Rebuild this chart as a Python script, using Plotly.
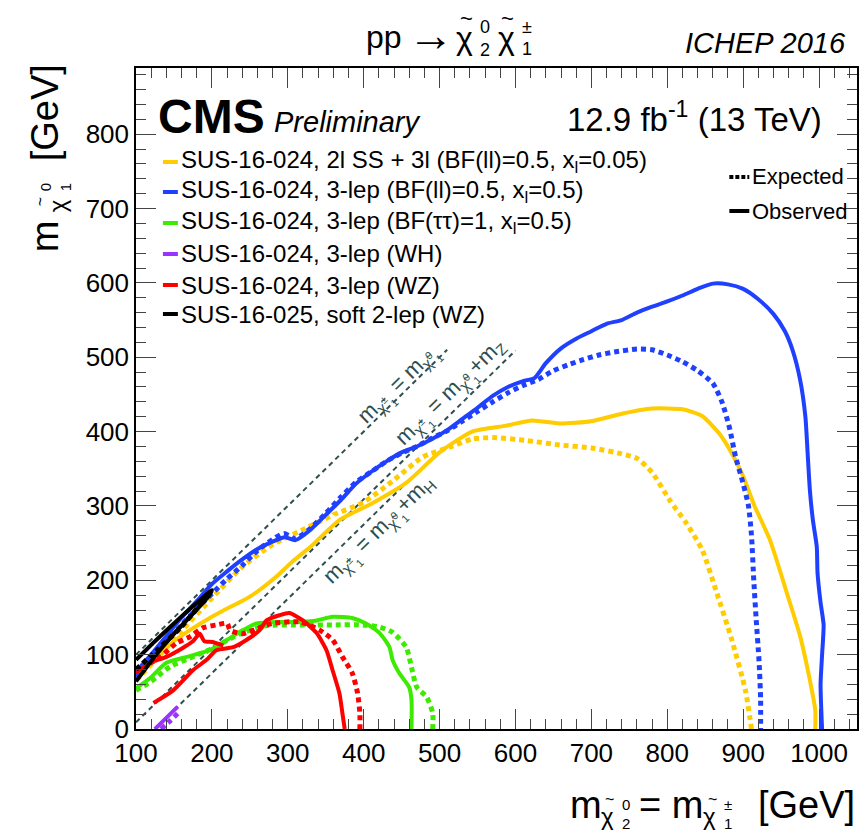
import plotly.graph_objects as go

# ---------------- data (GeV) ----------------
blue_obs_x = [100, 120, 140, 160, 180, 200, 220, 240, 260, 280, 296, 310, 330, 350, 370, 390, 410, 430, 450, 470, 490, 510, 530, 550, 570, 590, 610, 625, 640, 660, 680, 700, 720, 740, 760, 780, 800, 820, 840, 860, 880, 900, 920, 940, 955, 965, 975, 982, 985, 988, 992, 997, 998, 1002, 1006, 1004, 1002, 1004]
blue_obs_y = [77, 100, 125, 150, 172, 195, 212, 228, 242, 252, 258, 254, 268, 288, 308, 330, 346, 360, 372, 380, 390, 402, 417, 432, 448, 460, 468, 472, 492, 512, 525, 535, 545, 550, 560, 568, 575, 583, 592, 599, 598, 592, 578, 558, 535, 510, 470, 420, 370, 320, 280, 245, 210, 170, 140, 100, 60, 0]

blue_exp_x = [100, 120, 140, 160, 180, 200, 220, 240, 260, 280, 295, 310, 330, 350, 370, 390, 410, 430, 450, 470, 490, 510, 530, 550, 570, 590, 610, 630, 650, 670, 690, 710, 730, 760, 780, 800, 820, 840, 860, 872, 882, 890, 900, 907, 911, 914, 917, 921, 923, 923]
blue_exp_y = [70, 95, 118, 140, 162, 182, 202, 220, 240, 255, 263, 256, 270, 290, 312, 332, 346, 360, 371, 380, 391, 401, 414, 427, 440, 452, 462, 470, 482, 490, 497, 503, 507, 511, 510, 503, 494, 482, 465, 440, 405, 366, 330, 300, 260, 200, 150, 90, 40, 0]

yel_obs_x = [100, 130, 150, 171, 195, 220, 245, 263, 285, 306, 330, 368, 412, 456, 500, 543, 588, 622, 658, 700, 740, 780, 820, 846, 868, 885, 900, 915, 935, 960, 975, 988, 995, 995]
yel_obs_y = [68, 100, 118, 133, 148, 162, 175, 187, 205, 225, 245, 281, 304, 331, 372, 400, 408, 415, 411, 414, 424, 431, 430, 421, 398, 371, 340, 300, 255, 175, 125, 65, 25, 0]

yel_exp_x = [100, 130, 160, 200, 240, 280, 320, 360, 400, 440, 478, 513, 543, 570, 614, 658, 700, 740, 760, 780, 803, 825, 846, 864, 885, 903, 911]
yel_exp_y = [65, 98, 132, 176, 218, 248, 268, 288, 305, 335, 366, 379, 390, 392, 388, 382, 378, 370, 364, 345, 308, 277, 241, 187, 120, 52, 0]

grn_obs_x = [100, 118, 140, 167, 197, 220, 241, 259, 289, 316, 338, 359, 386, 403, 421, 434, 438, 447, 460, 463, 463]
grn_obs_y = [55, 68, 89, 97, 106, 120, 133, 142, 144, 144, 146, 151, 149, 142, 129, 110, 93, 75, 56, 39, 0]

grn_exp_x = [100, 120, 145, 170, 200, 237, 272, 316, 359, 399, 421, 438, 456, 463, 470, 483, 491, 491]
grn_exp_y = [52, 64, 84, 95, 108, 128, 139, 140, 140, 140, 137, 130, 110, 83, 56, 43, 21, 0]

red_obs_x = [100, 118, 140, 160, 175, 184, 190, 201, 215, None, 123, 149, 175, 193, 206, 228, 246, 263, 272, 289, 302, 320, 338, 351, 359, 368, 372, 375]
red_obs_y = [75, 89, 97, 108, 118, 128, 118, 117, 112, None, 35, 52, 79, 93, 106, 110, 120, 133, 146, 153, 156, 146, 129, 106, 79, 48, 21, 0]

red_exp_x = [108, 132, 154, 171, 188, 206, 220, 224, 240, 260, 280, 316, 342, 359, 372, 385, 392, 395, 395]
red_exp_y = [82, 97, 116, 124, 136, 140, 142, 133, 128, 135, 142, 144, 133, 120, 97, 75, 48, 21, 0]

pur_obs_x = [125, 140, 155]
pur_obs_y = [0, 15, 30]
pur_exp_x = [133, 145, 157]
pur_exp_y = [0, 11, 23]

blk_obs_x = [100, 125, 150, 175, 200, 196, 175, 150, 125, 100]
blk_obs_y = [93, 118, 142, 165, 187, 179, 155, 128, 98, 64]
blk_exp_x = [100, 130, 160, 195]
blk_exp_y = [80, 108, 138, 180]

# kinematic boundary lines: m_chi1pm = m_lsp + offset
diag_offsets = [0, 91, 125]
diag_x_start = [100, 100, 125]
diag_x_end = [510, 600, 455]

legend_labels = [
    "SUS-16-024, 2l SS + 3l (BF(ll)=0.5, x<sub>l</sub>=0.05)",
    "SUS-16-024, 3-lep (BF(ll)=0.5, x<sub>l</sub>=0.5)",
    "SUS-16-024, 3-lep (BF(ττ)=1, x<sub>l</sub>=0.5)",
    "SUS-16-024, 3-lep (WH)",
    "SUS-16-024, 3-lep (WZ)",
    "SUS-16-025, soft 2-lep (WZ)",
]

# ---------------- styling ----------------
YEL, BLU, GRN, PUR, RED, BLK = "#FFCC00", "#2040FF", "#3CEB00", "#9933FF", "#FF0000", "#000000"
DIAG = "#2F4F4F"
FONT = "Liberation Sans, Arial, sans-serif"
W, H = 865, 833
L, R, T, B = 136, 6, 68, 104
X0, X1 = 100, 1050
Y0, Y1 = 0, 889


def pp(px, py):
    return (px - L) / (W - L - R), (H - B - py) / (H - T - B)


fig = go.Figure()

# diagonal lines
for off, xs, xe in zip(diag_offsets, diag_x_start, diag_x_end):
    fig.add_trace(go.Scatter(x=[xs, xe], y=[xs - off, xe - off], mode="lines",
                             line=dict(color=DIAG, width=2, dash="5px,4px"),
                             hoverinfo="skip", showlegend=False))

curves = [
    (grn_exp_x, grn_exp_y, GRN, True), (grn_obs_x, grn_obs_y, GRN, False),
    (yel_exp_x, yel_exp_y, YEL, True), (yel_obs_x, yel_obs_y, YEL, False),
    (blue_exp_x, blue_exp_y, BLU, True), (blue_obs_x, blue_obs_y, BLU, False),
    (red_exp_x, red_exp_y, RED, True), (red_obs_x, red_obs_y, RED, False),
    (pur_exp_x, pur_exp_y, PUR, True), (pur_obs_x, pur_obs_y, PUR, False),
    (blk_exp_x, blk_exp_y, BLK, True), (blk_obs_x, blk_obs_y, BLK, False),
]
for xs, ys, col, dotted in curves:
    fig.add_trace(go.Scatter(
        x=xs, y=ys, mode="lines",
        line=dict(color=col, width=5 if dotted else 4, dash="5px,4px" if dotted else "solid",
                  shape="spline", smoothing=0.6),
        hoverinfo="skip", showlegend=False))

annotations = []
shapes = []


def ann(text, px, py, size, xanchor="left", yanchor="middle", color="black", angle=0, family=FONT):
    x, y = pp(px, py)
    annotations.append(dict(text=text, x=x, y=y, xref="paper", yref="paper", showarrow=False,
                            xanchor=xanchor, yanchor=yanchor, textangle=angle,
                            font=dict(family=family, size=size, color=color)))


# title pieces: pp -> chi~^0_2 chi~^pm_1
ann("pp", 365, 37, 32)
ann("→", 432, 35, 46, xanchor="center")
ann("χ", 455, 38, 32)
ann("~", 467, 19, 22, xanchor="center")
ann("0", 486, 27, 18, xanchor="center")
ann("2", 486, 50, 18, xanchor="center")
ann("χ", 497, 38, 32)
ann("~", 509, 19, 22, xanchor="center")
ann("±", 528, 27, 18, xanchor="center")
ann("1", 528, 49, 18, xanchor="center")
ann("<i>ICHEP 2016</i>", 850, 43, 29, xanchor="right")

# CMS labels
ann("<b>CMS</b>", 156, 117, 48)
ann("<i>Preliminary</i>", 272, 122, 29)
ann("12.9 fb<sup>-1</sup> (13 TeV)", 826, 117, 33, xanchor="right")

# x-axis title pieces
ann("m", 569, 805, 38)
ann("χ", 600, 816, 24)
ann("~", 611, 799, 16, xanchor="center")
ann("0", 627, 804, 15, xanchor="center")
ann("2", 627, 823, 15, xanchor="center")
ann("= m", 638, 805, 38)
ann("χ", 703, 816, 24)
ann("~", 714, 799, 16, xanchor="center")
ann("±", 730, 804, 15, xanchor="center")
ann("1", 730, 823, 15, xanchor="center")
ann("[GeV]", 859, 805, 38, xanchor="right")

# y-axis title pieces (rotated)
ann("[GeV]", 45, 113, 38, xanchor="center", angle=-90)
ann("m", 45, 236, 38, xanchor="center", angle=-90)
ann("χ", 57, 206, 24, xanchor="center", angle=-90)
ann("~", 40, 202, 16, xanchor="center", angle=-90)
ann("0", 45, 187, 15, xanchor="center", angle=-90)
ann("1", 65, 187, 15, xanchor="center", angle=-90)

# legend
legend_cols = [YEL, BLU, GRN, PUR, RED, BLK]
legend_rows = [162, 192, 223, 254, 285, 314]
for lab, col, ry in zip(legend_labels, legend_cols, legend_rows):
    x0, y0 = pp(163, ry)
    x1, _ = pp(178, ry)
    shapes.append(dict(type="line", xref="paper", yref="paper", x0=x0, x1=x1, y0=y0, y1=y0,
                       line=dict(color=col, width=4)))
    ann(lab, 179, ry, 24)

for ry, txt, dash in [(177, "Expected", "4px,2px"), (211, "Observed", "solid")]:
    x0, y0 = pp(731, ry)
    x1, _ = pp(751, ry)
    shapes.append(dict(type="line", xref="paper", yref="paper", x0=x0, x1=x1, y0=y0, y1=y0,
                       line=dict(color="black", width=4, dash=dash)))
    ann(txt, 752, ry, 22)

# diagonal labels (placed in data coords)
ang = -44.35
diag_labels = [
    ("m<sub>χ̃<sup>±</sup><sub>1</sub></sub> = m<sub>χ̃<sup>0</sup><sub>1</sub></sub>", 447, 463),
    ("m<sub>χ̃<sup>±</sup><sub>1</sub></sub> = m<sub>χ̃<sup>0</sup><sub>1</sub></sub>+m<sub>Z</sub>", 515, 452),
    ("m<sub>χ̃<sup>±</sup><sub>1</sub></sub> = m<sub>χ̃<sup>0</sup><sub>1</sub></sub>+m<sub>H</sub>", 421, 266),
]
for txt, dx, dy in diag_labels:
    annotations.append(dict(text=txt, x=dx, y=dy, xref="x", yref="y", showarrow=False,
                            textangle=ang, font=dict(family=FONT, size=22, color=DIAG)))

axis_common = dict(showline=True, linecolor="black", linewidth=1.5, mirror="allticks",
                   ticks="inside", ticklen=20, tickwidth=1, tickcolor="#444",
                   showgrid=False, zeroline=False, dtick=100,
                   tickfont=dict(family=FONT, size=26, color="black"),
                   minor=dict(ticks="inside", ticklen=10, dtick=20, tickcolor="#444", tickwidth=1, showgrid=False))

fig.update_layout(
    width=W, height=H,
    margin=dict(l=L, r=R, t=T, b=B, pad=0),
    paper_bgcolor="white", plot_bgcolor="white",
    xaxis=dict(range=[X0, X1], tick0=0, **axis_common),
    yaxis=dict(range=[Y0, Y1], tick0=0, **axis_common),
    annotations=annotations, shapes=shapes,
    showlegend=False,
)

fig.write_html("out.html")
